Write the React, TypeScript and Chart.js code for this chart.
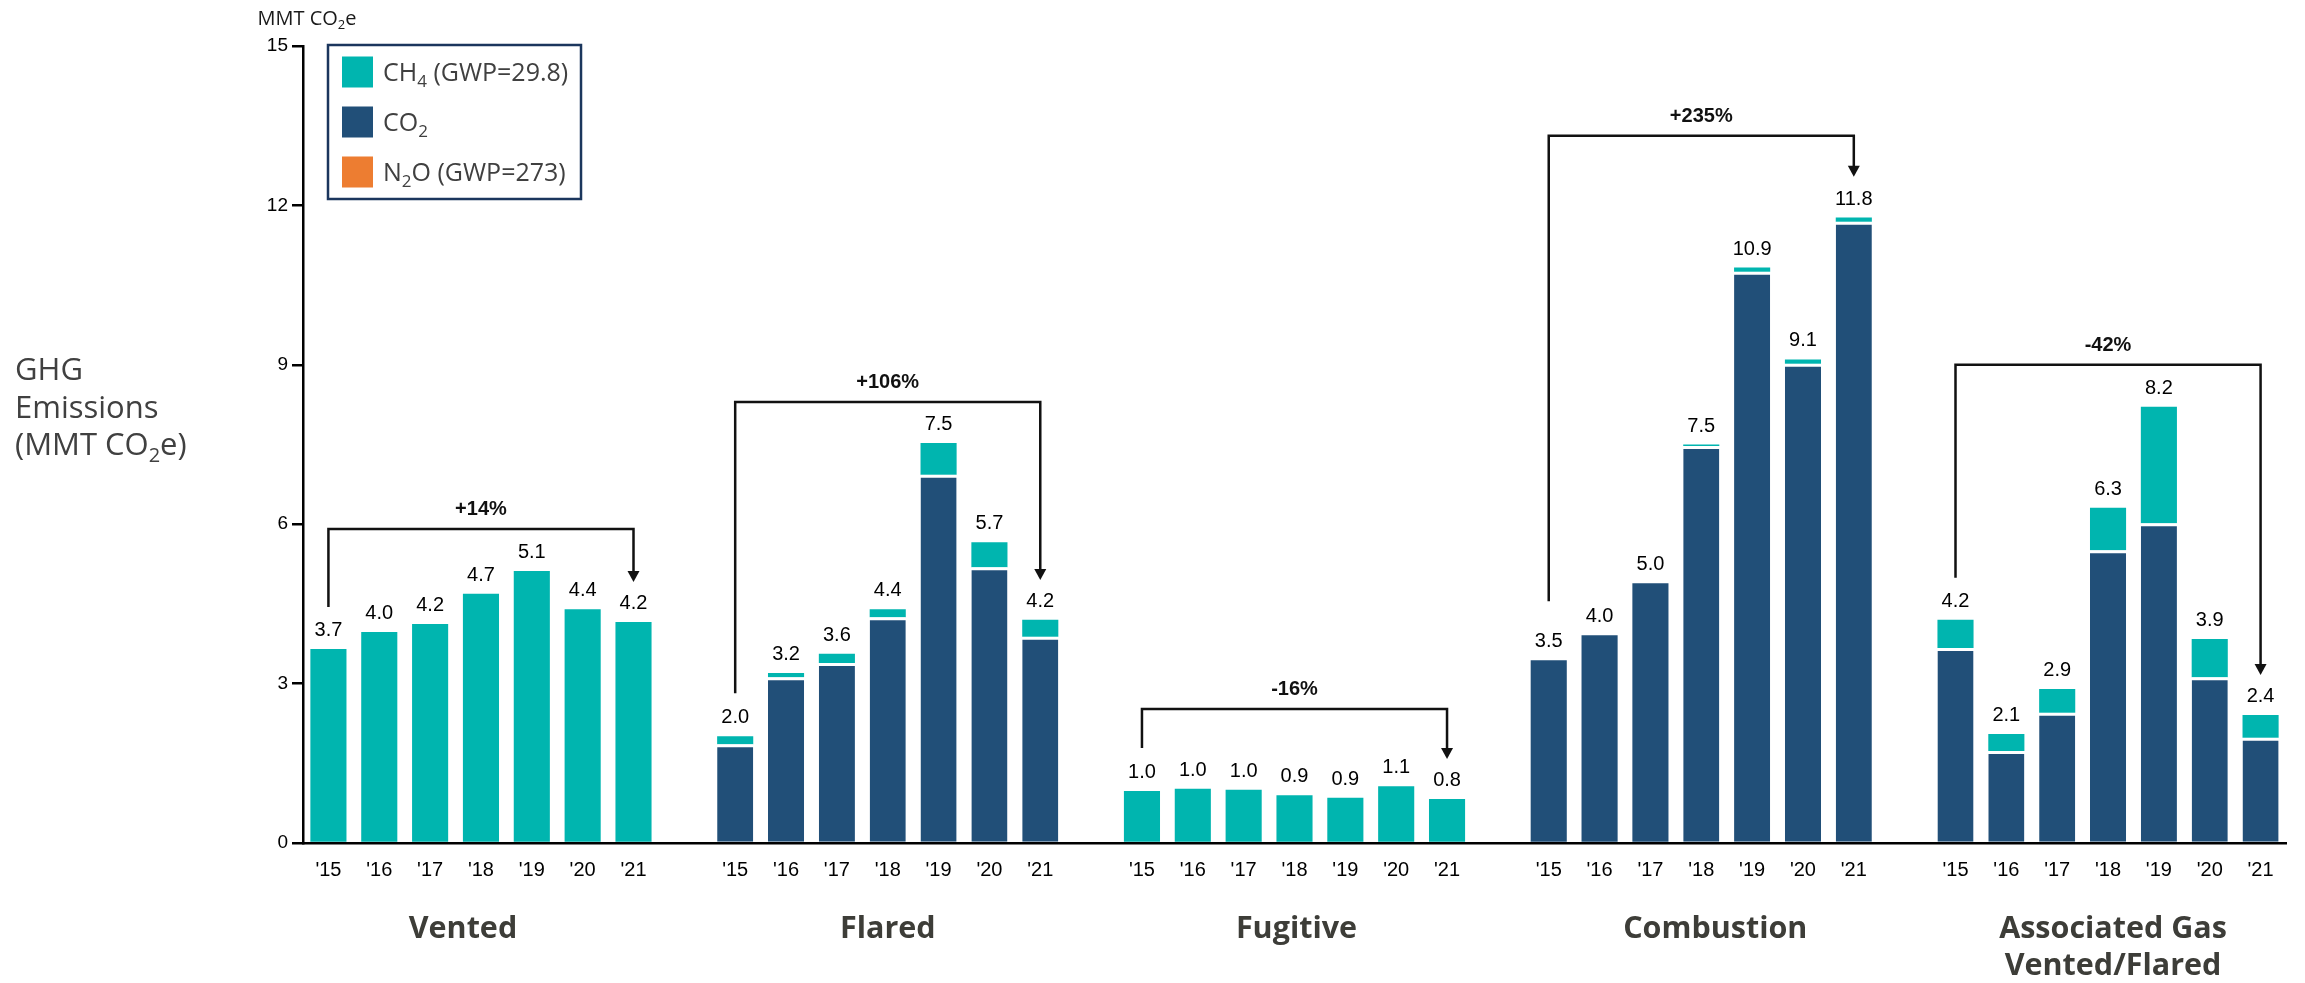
import React, { useEffect, useRef } from 'react';
import { Chart, registerables } from 'chart.js';

Chart.register(...registerables);

// ---------- data ----------
const YEARS = ["'15", "'16", "'17", "'18", "'19", "'20", "'21"];
const GROUP_NAMES = ['Vented', 'Flared', 'Fugitive', 'Combustion', 'Associated Gas|Vented/Flared'];

const ventedCO2 = [0, 0, 0, 0, 0, 0, 0];
const ventedCH4 = [3.65, 3.97, 4.12, 4.69, 5.12, 4.4, 4.16];
const flaredCO2 = [1.86, 3.12, 3.39, 4.25, 6.93, 5.19, 3.88];
const flaredCH4 = [0.15, 0.08, 0.17, 0.15, 0.6, 0.47, 0.32];
const fugitiveCO2 = [0, 0, 0, 0, 0, 0, 0];
const fugitiveCH4 = [0.98, 1.02, 1.0, 0.9, 0.85, 1.07, 0.83];
const combustionCO2 = [3.44, 3.91, 4.89, 7.47, 10.75, 9.02, 11.69];
const combustionCH4 = [0, 0, 0, 0.03, 0.08, 0.08, 0.08];
const assocCO2 = [3.67, 1.73, 2.45, 5.51, 6.02, 3.12, 1.98];
const assocCH4 = [0.53, 0.32, 0.45, 0.8, 2.19, 0.72, 0.43];
const n2oAll = [0, 0, 0, 0, 0, 0, 0];

const ventedTotals = ['3.7', '4.0', '4.2', '4.7', '5.1', '4.4', '4.2'];
const flaredTotals = ['2.0', '3.2', '3.6', '4.4', '7.5', '5.7', '4.2'];
const fugitiveTotals = ['1.0', '1.0', '1.0', '0.9', '0.9', '1.1', '0.8'];
const combustionTotals = ['3.5', '4.0', '5.0', '7.5', '10.9', '9.1', '11.8'];
const assocTotals = ['4.2', '2.1', '2.9', '6.3', '8.2', '3.9', '2.4'];

const changeLabels = ['+14%', '+106%', '-16%', '+235%', '-42%'];
const bracketTop = [5.91, 8.3, 2.52, 13.31, 9.0];
const bracketStart = [4.44, 2.82, 1.79, 4.55, 4.99];
const bracketEnd = [4.91, 4.95, 1.58, 12.54, 3.16];

const Y_TICKS_STEP = 3;
const Y_MAX = 15;

const LEGEND_ITEMS = ['CH_4 (GWP=29.8)', 'CO_2', 'N_2O (GWP=273)'];
const Y_TITLE = ['GHG', 'Emissions', '(MMT CO_2e)'];
const UNIT_LABEL = 'MMT CO_2e';

// ---------- styles ----------
const TEAL = '#00B5AF';
const NAVY = '#214F78';
const ORANGE = '#ED7D31';
const ARIAL = '"Liberation Sans", Arial, sans-serif';
const SANS = '"Open Sans", "Noto Sans", sans-serif';
const GROUP_LABEL_SHIFT = [-18, 0, 2, 14, 5];

const CO2_GROUPS = [ventedCO2, flaredCO2, fugitiveCO2, combustionCO2, assocCO2];
const CH4_GROUPS = [ventedCH4, flaredCH4, fugitiveCH4, combustionCH4, assocCH4];
const TOTAL_GROUPS = [ventedTotals, flaredTotals, fugitiveTotals, combustionTotals, assocTotals];

const labels: string[] = [];
const co2Data: (number | null)[] = [];
const ch4Data: (number | null)[] = [];
const n2oData: (number | null)[] = [];
const totalText: string[] = [];
const groupStart: number[] = [];
CO2_GROUPS.forEach((arr, g) => {
  groupStart.push(labels.length);
  arr.forEach((v, i) => {
    labels.push(YEARS[i]);
    co2Data.push(v);
    ch4Data.push(CH4_GROUPS[g][i]);
    n2oData.push(n2oAll[i]);
    totalText.push(TOTAL_GROUPS[g][i]);
  });
  if (g < CO2_GROUPS.length - 1) {
    labels.push('');
    co2Data.push(null);
    ch4Data.push(null);
    n2oData.push(null);
    totalText.push('');
  }
});

function parseParts(s: string): { t: string; sub: boolean }[] {
  const parts: { t: string; sub: boolean }[] = [];
  let cur = '';
  for (let i = 0; i < s.length; i++) {
    if (s[i] === '_' && i + 1 < s.length) {
      if (cur) parts.push({ t: cur, sub: false });
      cur = '';
      parts.push({ t: s[i + 1], sub: true });
      i++;
    } else cur += s[i];
  }
  if (cur) parts.push({ t: cur, sub: false });
  return parts;
}

function drawRich(
  ctx: CanvasRenderingContext2D,
  s: string,
  x: number,
  y: number,
  size: number,
  family: string,
  weight: string,
  color: string,
  align: 'left' | 'center'
) {
  const parts = parseParts(s);
  const subSize = Math.round(size * 0.66);
  let total = 0;
  const widths = parts.map((p) => {
    ctx.font = `${weight} ${p.sub ? subSize : size}px ${family}`;
    const w = ctx.measureText(p.t).width;
    total += w;
    return w;
  });
  let cx = align === 'center' ? x - total / 2 : x;
  ctx.fillStyle = color;
  ctx.textAlign = 'left';
  ctx.textBaseline = 'alphabetic';
  parts.forEach((p, i) => {
    ctx.font = `${weight} ${p.sub ? subSize : size}px ${family}`;
    ctx.fillText(p.t, cx, p.sub ? y + size * 0.22 : y);
    cx += widths[i];
  });
}

const overlayPlugin = {
  id: 'overlay',
  afterDraw(chart: any) {
    const ctx: CanvasRenderingContext2D = chart.ctx;
    const yScale = chart.scales.y;
    const metaCO2 = chart.getDatasetMeta(0);
    const metaCH4 = chart.getDatasetMeta(2);
    ctx.save();

    // value labels
    ctx.font = `20px ${ARIAL}`;
    ctx.fillStyle = '#000';
    ctx.textAlign = 'center';
    ctx.textBaseline = 'alphabetic';
    labels.forEach((_, i) => {
      if (!totalText[i]) return;
      const e1 = metaCO2.data[i];
      const e2 = metaCH4.data[i];
      const top = Math.min(e1.y, e2.y);
      ctx.fillText(totalText[i], e1.x, top - 13);
    });

    // brackets
    ctx.strokeStyle = '#111';
    ctx.fillStyle = '#111';
    ctx.lineWidth = 2.5;
    groupStart.forEach((s, g) => {
      const x1 = metaCO2.data[s].x;
      const x2 = metaCO2.data[s + 6].x;
      const yT = yScale.getPixelForValue(bracketTop[g]);
      const yS = yScale.getPixelForValue(bracketStart[g]);
      const yE = yScale.getPixelForValue(bracketEnd[g]);
      ctx.beginPath();
      ctx.moveTo(x1, yS);
      ctx.lineTo(x1, yT);
      ctx.lineTo(x2, yT);
      ctx.lineTo(x2, yE - 10);
      ctx.stroke();
      ctx.beginPath();
      ctx.moveTo(x2 - 6, yE - 11);
      ctx.lineTo(x2 + 6, yE - 11);
      ctx.lineTo(x2, yE);
      ctx.closePath();
      ctx.fill();
      ctx.font = `bold 20px ${ARIAL}`;
      ctx.textAlign = 'center';
      ctx.textBaseline = 'alphabetic';
      ctx.fillText(changeLabels[g], (x1 + x2) / 2, yT - 14);
    });

    // group labels
    const bottom = chart.chartArea.bottom;
    groupStart.forEach((s, g) => {
      const x1 = metaCO2.data[s].x;
      const x2 = metaCO2.data[s + 6].x;
      const lines = GROUP_NAMES[g].split('|');
      lines.forEach((ln, k) => {
        drawRich(ctx, ln, (x1 + x2) / 2 + GROUP_LABEL_SHIFT[g], bottom + 95 + k * 37, 30.5, SANS, 'bold', '#3D3D38', 'center');
      });
    });

    // y title
    Y_TITLE.forEach((ln, k) => {
      const ys = [380, 418, 455];
      drawRich(ctx, ln, 15, ys[k], 31, SANS, 'normal', '#404040', 'left');
    });

    // unit label above axis
    drawRich(ctx, UNIT_LABEL, chart.chartArea.left + 4, 25, 20, SANS, 'normal', '#1a1a1a', 'center');

    // legend
    const lx = 328, ly = 45, lw = 253, lh = 154;
    ctx.fillStyle = '#fff';
    ctx.fillRect(lx, ly, lw, lh);
    ctx.strokeStyle = '#1B365D';
    ctx.lineWidth = 2.5;
    ctx.strokeRect(lx, ly, lw, lh);
    const colors = [TEAL, NAVY, ORANGE];
    LEGEND_ITEMS.forEach((t, k) => {
      const cy = 72 + k * 50;
      ctx.fillStyle = colors[k];
      ctx.fillRect(342, cy - 15.5, 31, 31);
      drawRich(ctx, t, 383, cy + 9, 25, SANS, 'normal', '#404040', 'left');
    });

    ctx.restore();
  },
};

export default function App() {
  const ref = useRef<HTMLCanvasElement | null>(null);
  useEffect(() => {
    if (!ref.current) return;
    const chart = new Chart(ref.current, {
      type: 'bar',
      data: {
        labels,
        datasets: [
          {
            label: 'CO2',
            data: co2Data,
            backgroundColor: NAVY,
            borderColor: '#ffffff',
            borderWidth: ((c: any) =>
              (ch4Data[c.dataIndex] ?? 0) > 0 ? { top: 3, left: 0, right: 0, bottom: 0 } : 0) as any,
            borderSkipped: false,
            stack: 's',
            barPercentage: 0.71,
            categoryPercentage: 1,
          },
          {
            label: 'N2O',
            data: n2oData,
            backgroundColor: ORANGE,
            borderWidth: 0,
            stack: 's',
            barPercentage: 0.71,
            categoryPercentage: 1,
          },
          {
            label: 'CH4',
            data: ch4Data,
            backgroundColor: TEAL,
            borderWidth: 0,
            stack: 's',
            barPercentage: 0.71,
            categoryPercentage: 1,
          },
        ],
      },
      options: {
        responsive: false,
        animation: false,
        devicePixelRatio: 1,
        layout: { padding: { left: 0, right: 19, top: 46, bottom: 0 } },
        plugins: { legend: { display: false }, tooltip: { enabled: false } },
        scales: {
          x: {
            stacked: true,
            grid: { display: false },
            border: { display: true, color: '#000', width: 2.5 },
            ticks: {
              autoSkip: false,
              maxRotation: 0,
              color: '#000',
              font: { family: ARIAL, size: 20 },
              padding: 7,
            },
            afterFit: (s: any) => {
              s.height = 140;
            },
          },
          y: {
            stacked: true,
            min: 0,
            max: Y_MAX,
            ticks: {
              stepSize: Y_TICKS_STEP,
              color: '#000',
              font: { family: ARIAL, size: 19 },
              padding: 4,
            },
            grid: {
              drawOnChartArea: false,
              drawTicks: true,
              tickLength: 11,
              color: '#000',
              lineWidth: 2.5,
            },
            border: { display: true, color: '#000', width: 2.5 },
            afterFit: (s: any) => {
              s.width = 303;
            },
          },
        },
      } as any,
      plugins: [overlayPlugin],
    });
    return () => chart.destroy();
  }, []);
  return (
    <div style={{ position: 'absolute', left: 0, top: 0, width: 2305, height: 983, background: '#fff' }}>
      <canvas ref={ref} width={2305} height={983} style={{ width: 2305, height: 983, display: 'block' }} />
    </div>
  );
}
